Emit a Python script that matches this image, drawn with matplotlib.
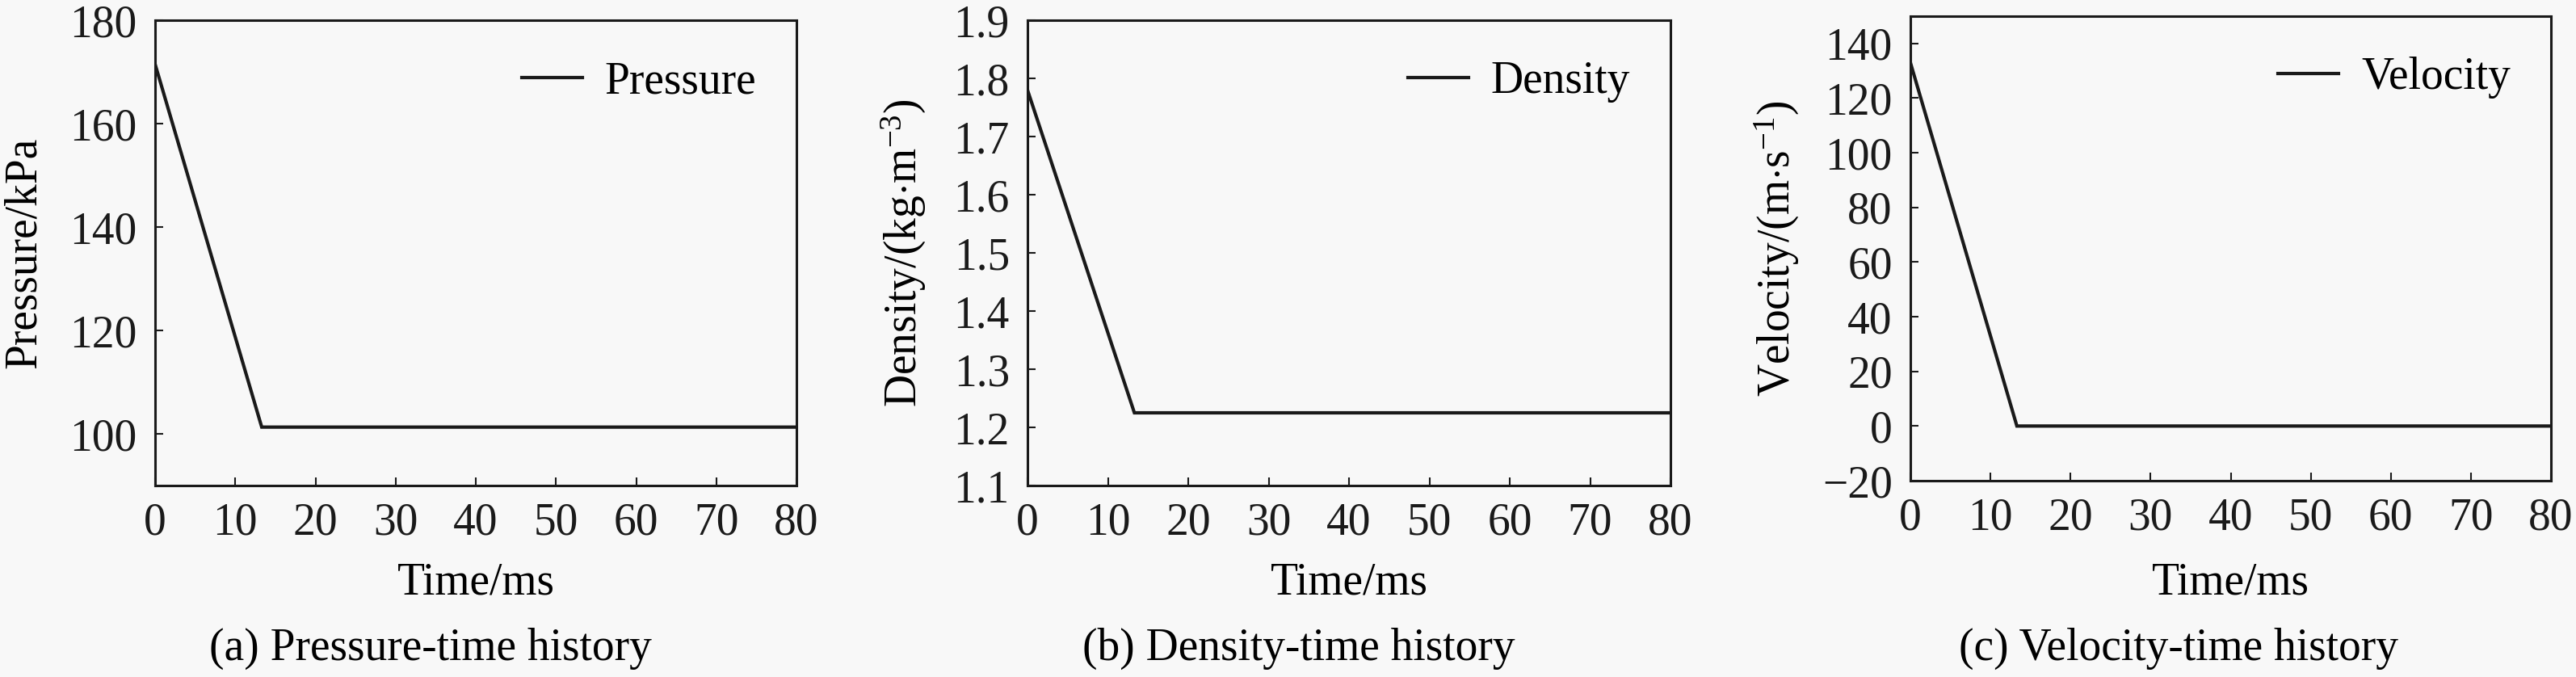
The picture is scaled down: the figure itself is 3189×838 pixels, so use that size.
import numpy as np
import matplotlib.pyplot as plt

# data
time_ms = [0, 13.3, 80]
pressure = [171.5, 101.3, 101.3]
density = [1.78, 1.225, 1.225]
velocity = [133.0, 0.0, 0.0]
xticks = np.arange(0, 81, 10)

plt.rcParams['font.family'] = ['Liberation Serif', 'DejaVu Serif']
plt.rcParams['mathtext.fontset'] = 'custom'
plt.rcParams['mathtext.rm'] = 'Liberation Serif'
plt.rcParams['mathtext.it'] = 'Liberation Serif:italic'
plt.rcParams['font.size'] = 40

bg = '#f8f8f8'
fig = plt.figure(figsize=(31.89, 8.38), dpi=100, facecolor=bg)
W, H = 3189.0, 838.0


def make_axes(left, right, top, bottom):
    return fig.add_axes([left / W, 1 - bottom / H, (right - left) / W, (bottom - top) / H])


panels = [
    dict(box=(192, 986, 25, 601), y=pressure, ylim=(90, 180), yticks=np.arange(100, 181, 20),
         ylabel='Pressure/kPa', label='Pressure', ylab_x=30,
         caption='(a) Pressure-time history', cap_x=533, fmt='%d'),
    dict(box=(1272, 2068, 25, 601), y=density, ylim=(1.1, 1.9), yticks=np.arange(1.1, 1.91, 0.1),
         ylabel=r'Density/(kg$\cdot$m$^{-3}$)', label='Density', ylab_x=1119,
         caption='(b) Density-time history', cap_x=1608, fmt='%.1f'),
    dict(box=(2365, 3158, 20, 595), y=velocity, ylim=(-20, 150), yticks=np.arange(-20, 141, 20),
         ylabel=r'Velocity/(m$\cdot$s$^{-1}$)', label='Velocity', ylab_x=2200,
         caption='(c) Velocity-time history', cap_x=2697, fmt='%d'),
]

for p in panels:
    l, r, t, b = p['box']
    ax = make_axes(l, r, t, b)
    ax.set_facecolor(bg)
    ax.plot(time_ms, p['y'], color='#1a1a1a', lw=3.0, label=p['label'], solid_joinstyle='miter')
    ax.set_xlim(0, 80)
    ax.set_ylim(*p['ylim'])
    ax.set_xticks(xticks)
    ax.set_yticks(p['yticks'])
    ax.set_yticklabels([(p['fmt'] % v).replace('-', '\u2212') for v in p['yticks']])
    ax.tick_params(direction='in', length=7, width=1.5, colors='#1a1a1a')
    ax.tick_params(axis='x', pad=15)
    ax.tick_params(axis='y', pad=16)
    for s in ax.spines.values():
        s.set_linewidth(2.2)
        s.set_color('#1a1a1a')
    ax.legend(loc='upper right', frameon=False, handlelength=1.35, handletextpad=0.5,
              borderaxespad=0.5, fontsize=40)
    # x label and caption
    fig.text((l + r) / 2 / W, 1 - 721 / H, 'Time/ms', ha='center', va='center')
    fig.text(p['cap_x'] / W, 1 - 803 / H, p['caption'], ha='center', va='center')
    fig.text(p['ylab_x'] / W, 1 - (t + b) / 2 / H, p['ylabel'], ha='center', va='center',
             rotation=90)

fig.savefig('out.png', dpi=100, facecolor=bg)
